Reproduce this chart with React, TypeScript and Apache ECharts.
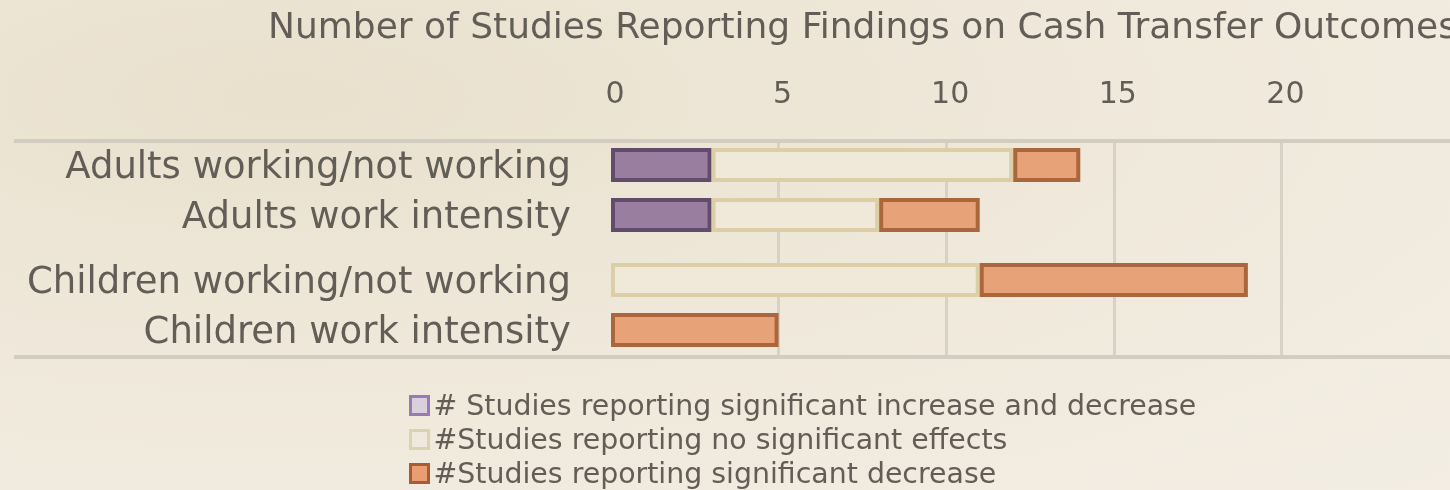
import React, { useEffect, useRef } from 'react';
import * as echarts from 'echarts';

const chartTitle = 'Number of Studies Reporting Findings on Cash Transfer Outcomes';
const adultCategories = ['Adults working/not working', 'Adults work intensity'];
const childCategories = ['Children working/not working', 'Children work intensity'];
const seriesNames = [
  '# Studies reporting significant increase and decrease',
  '#Studies reporting no significant effects',
  '#Studies reporting significant decrease',
];
const adultIncDec = [3, 3];
const adultNoEffect = [9, 5];
const adultDecrease = [2, 3];
const childIncDec = [0, 0];
const childNoEffect = [11, 0];
const childDecrease = [8, 5];
const axisMin = 0;
const axisMax = 25;
const axisStep = 5;

const FONT = 'DejaVu Sans';
const TEXT = '#625d56';

const barStyles = [
  { color: '#9a7e9f', borderColor: '#614c6b', borderWidth: 4 },
  { color: '#f0e8d8', borderColor: '#dccfa6', borderWidth: 4 },
  { color: '#e8a277', borderColor: '#aa663d', borderWidth: 4 },
];
const legendStyles = [
  { color: '#d9d0dc', borderColor: '#9a7ab2', borderWidth: 3 },
  { color: '#efe9dd', borderColor: '#dcd2b0', borderWidth: 3 },
  { color: '#e99d70', borderColor: '#a85c35', borderWidth: 3 },
];

const clean = (arr: number[]) => arr.map((v) => (v === 0 ? '-' : v));

export default function App() {
  const ref = useRef<HTMLDivElement>(null);
  useEffect(() => {
    if (!ref.current) return;
    const chart = echarts.init(ref.current, null, { renderer: 'svg' });
    const catAxis = (gridIndex: number, data: string[]) => ({
      type: 'category',
      gridIndex,
      data,
      inverse: true,
      axisLine: { show: false },
      axisTick: { show: false },
      splitLine: { show: false },
      axisLabel: { margin: 40, fontFamily: FONT, fontSize: 37, color: TEXT },
    });
    const hiddenX = (gridIndex: number) => ({
      type: 'value',
      gridIndex,
      min: axisMin,
      max: axisMax,
      interval: axisStep,
      show: false,
    });
    const groups = [
      [adultIncDec, adultNoEffect, adultDecrease],
      [childIncDec, childNoEffect, childDecrease],
    ];
    const series: any[] = [];
    groups.forEach((g, gi) => {
      g.forEach((vals, si) => {
        series.push({
          type: 'bar',
          name: seriesNames[si],
          xAxisIndex: gi + 1,
          yAxisIndex: gi + 1,
          stack: 'g' + gi,
          barWidth: 34,
          data: clean(vals),
          itemStyle: barStyles[si],
        });
      });
    });
    chart.setOption({
      animation: false,
      backgroundColor: 'transparent',
      title: {
        text: chartTitle,
        left: 263,
        top: 2,
        textStyle: { fontFamily: FONT, fontSize: 36, fontWeight: 'normal', color: TEXT },
      },
      grid: [
        { left: 611, right: 1, top: 140, height: 217 },
        { left: 611, right: 1, top: 140, height: 100 },
        { left: 611, right: 1, top: 255, height: 100 },
      ],
      xAxis: [
        {
          type: 'value',
          gridIndex: 0,
          position: 'top',
          min: axisMin,
          max: axisMax,
          interval: axisStep,
          axisLine: { show: false },
          axisTick: { show: false },
          axisLabel: {
            showMaxLabel: false,
            margin: 33,
            padding: [0, 0, 0, 8],
            fontFamily: FONT,
            fontSize: 30,
            color: TEXT,
          },
          splitLine: {
            show: true,
            showMinLine: false,
            showMaxLine: false,
            lineStyle: { color: '#d8d2c6', width: 3 },
          },
        },
        hiddenX(1),
        hiddenX(2),
      ],
      yAxis: [
        { type: 'category', gridIndex: 0, data: [''], show: false },
        catAxis(1, adultCategories),
        catAxis(2, childCategories),
      ],
      legend: {
        orient: 'vertical',
        left: 404,
        top: 386,
        itemWidth: 18,
        itemHeight: 18,
        itemGap: 5,
        icon: 'rect',
        textStyle: { fontFamily: FONT, fontSize: 28.4, color: TEXT, lineHeight: 29 },
        data: seriesNames.map((n, i) => ({ name: n, itemStyle: legendStyles[i] })),
      },
      graphic: [
        {
          type: 'line',
          shape: { x1: 14, y1: 141, x2: 1450, y2: 141 },
          style: { stroke: '#d2ccc1', lineWidth: 4 },
          z: 10,
        },
        {
          type: 'line',
          shape: { x1: 14, y1: 357, x2: 1450, y2: 357 },
          style: { stroke: '#d2ccc1', lineWidth: 4 },
          z: 10,
        },
      ],
      series,
    });
    return () => chart.dispose();
  }, []);
  return (
    <div
      style={{
        position: 'fixed',
        left: 0,
        top: 0,
        width: 1450,
        height: 490,
        overflow: 'hidden',
        background:
          'radial-gradient(ellipse at 20% 20%, #e9e0cd 0%, #efe8da 45%, #f3eee4 100%)',
      }}
    >
      <div ref={ref} style={{ width: 1450, height: 560 }} />
    </div>
  );
}
